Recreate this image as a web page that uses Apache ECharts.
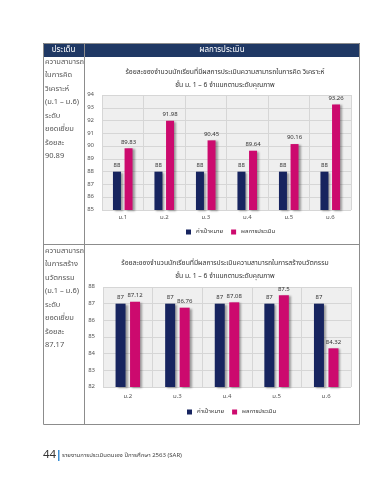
<!DOCTYPE html>
<html><head><meta charset="utf-8">
<script src="https://cdn.jsdelivr.net/npm/echarts@6/dist/echarts.min.js"></script>
<style>html,body{margin:0;padding:0;background:#fff;}#c{width:370px;height:480px;}</style>
</head><body><div id="c"></div>
<script>
const cats1 = ['ม.1','ม.2','ม.3','ม.4','ม.5','ม.6'];
const target1 = [88,88,88,88,88,88];
const result1 = [89.83,91.98,90.45,89.64,90.16,93.26];
const yTicks1 = {min:85, max:94, interval:1};
const cats2 = ['ม.2','ม.3','ม.4','ม.5','ม.6'];
const target2 = [87,87,87,87,87];
const result2 = [87.12,86.76,87.08,87.5,84.32];
const yTicks2 = {min:82, max:88, interval:1};
const seriesNames = ['ค่าเป้าหมาย','ผลการประเมิน'];
const title1 = ['ร้อยละของจำนวนนักเรียนที่มีผลการประเมินความสามารถในการคิด วิเคราะห์','ชั้น ม. 1 – 6 จำแนกตามระดับคุณภาพ'];
const title2 = ['ร้อยละของจำนวนนักเรียนที่มีผลการประเมินความสามารถในการสร้างนวัตกรรม','ชั้น ม. 1 – 6 จำแนกตามระดับคุณภาพ'];
const leftText1 = ['ความสามารถ','ในการคิด','วิเคราะห์','(ม.1 – ม.6)','ระดับ','ยอดเยี่ยม','ร้อยละ','90.89'];
const leftText2 = ['ความสามารถ','ในการสร้าง','นวัตกรรม','(ม.1 – ม.6)','ระดับ','ยอดเยี่ยม','ร้อยละ','87.17'];
const headers = ['ประเด็น','ผลการประเมิน'];
const footerNum = '44';
const footerText = 'รายงานการประเมินตนเอง ปีการศึกษา 2563 (SAR)';

const FF = '"Noto Sans Thai","Noto Sans","DejaVu Sans",sans-serif';
const NAVY = '#17245f', MAG = '#cc0a6e';
const chart = echarts.init(document.getElementById('c'), null, {renderer:'canvas'});

function axisSet(gi, cats, yt, margin){
  return {
    x: {type:'category', gridIndex:gi, data:cats,
      axisLine:{show:false}, axisTick:{show:false},
      axisLabel:{fontSize:6, color:'#555', margin:margin, fontFamily:FF},
      splitLine:{show:true, lineStyle:{color:'#d6d6d6', width:1}}},
    y: {type:'value', gridIndex:gi, min:yt.min, max:yt.max, interval:yt.interval,
      axisLine:{show:false}, axisTick:{show:false},
      axisLabel:{fontSize:6, color:'#555', margin:8, fontFamily:FF},
      splitLine:{lineStyle:{color:'#d6d6d6', width:1}}}
  };
}
const a1 = axisSet(0, cats1, yTicks1, 5);
const a2 = axisSet(1, cats2, yTicks2, 7);

function bar(name, data, xi, color, bw){
  return {name:name, type:'bar', xAxisIndex:xi, yAxisIndex:xi, data:data,
    barWidth:bw, barGap:'45%',
    itemStyle:{color:color, shadowColor:'rgba(0,0,0,0.35)', shadowBlur:2, shadowOffsetX:2, shadowOffsetY:1},
    label:{show:true, position:'top', distance:3, fontSize:6, color:'#333', fontFamily:FF}};
}

const g = [];
g.push({type:'rect', shape:{x:43, y:43, width:317, height:14}, style:{fill:'#1f3864'}});
g.push({type:'rect', shape:{x:43.5, y:43.5, width:316, height:381}, style:{fill:'none', stroke:'#8c8c8c', lineWidth:1}});
g.push({type:'line', shape:{x1:84.5, y1:43, x2:84.5, y2:425}, style:{stroke:'#8c8c8c', lineWidth:1}});
g.push({type:'line', shape:{x1:43, y1:244.5, x2:360, y2:244.5}, style:{stroke:'#8c8c8c', lineWidth:1}});
g.push({type:'text', style:{text:headers[0], x:63.5, y:50, fill:'#fff', fontSize:8, fontFamily:FF, align:'center', verticalAlign:'middle'}});
g.push({type:'text', style:{text:headers[1], x:222, y:50, fill:'#fff', fontSize:8, fontFamily:FF, align:'center', verticalAlign:'middle'}});
leftText1.forEach((t,i)=>g.push({type:'text', style:{text:t, x:45, y:62+i*13.5, fill:'#555', fontSize:7.5, fontFamily:FF, align:'left', verticalAlign:'middle'}}));
leftText2.forEach((t,i)=>g.push({type:'text', style:{text:t, x:45, y:251+i*13.5, fill:'#555', fontSize:7.5, fontFamily:FF, align:'left', verticalAlign:'middle'}}));
g.push({type:'text', style:{text:footerNum, x:43, y:456, fill:'#333', fontSize:11.5, fontFamily:FF, align:'left', verticalAlign:'middle'}});
g.push({type:'rect', shape:{x:58, y:450, width:1.5, height:11}, style:{fill:'#3b8fd6'}});
g.push({type:'text', style:{text:footerText, x:62, y:456, fill:'#444', fontSize:6, fontFamily:FF, align:'left', verticalAlign:'middle'}});

const option = {
  animation:false,
  textStyle:{fontFamily:FF},
  title:[
    {text:title1.join('\n'), left:220, top:61, textAlign:'center', textStyle:{fontSize:6.8, fontWeight:'normal', color:'#333', lineHeight:13, fontFamily:FF}},
    {text:title2.join('\n'), left:220, top:252, textAlign:'center', textStyle:{fontSize:6.8, fontWeight:'normal', color:'#333', lineHeight:13, fontFamily:FF}}
  ],
  legend:[
    {data:seriesNames, left:186, top:229, itemWidth:5, itemHeight:5, itemGap:8, icon:'rect', textStyle:{fontSize:6, color:'#333', fontFamily:FF}, padding:0},
    {data:seriesNames, left:187, top:409, itemWidth:5, itemHeight:5, itemGap:8, icon:'rect', textStyle:{fontSize:6, color:'#333', fontFamily:FF}, padding:0}
  ],
  grid:[
    {left:102, right:19, top:95, bottom:270, show:true, backgroundColor:'#efefef', borderWidth:0},
    {left:103, right:19, top:287, bottom:93, show:true, backgroundColor:'#efefef', borderWidth:0}
  ],
  xAxis:[a1.x, a2.x],
  yAxis:[a1.y, a2.y],
  series:[
    bar(seriesNames[0], target1, 0, NAVY, 8),
    bar(seriesNames[1], result1, 0, MAG, 8),
    bar(seriesNames[0], target2, 1, NAVY, 10),
    bar(seriesNames[1], result2, 1, MAG, 10)
  ],
  graphic:g
};
chart.setOption(option);
</script></body></html>
